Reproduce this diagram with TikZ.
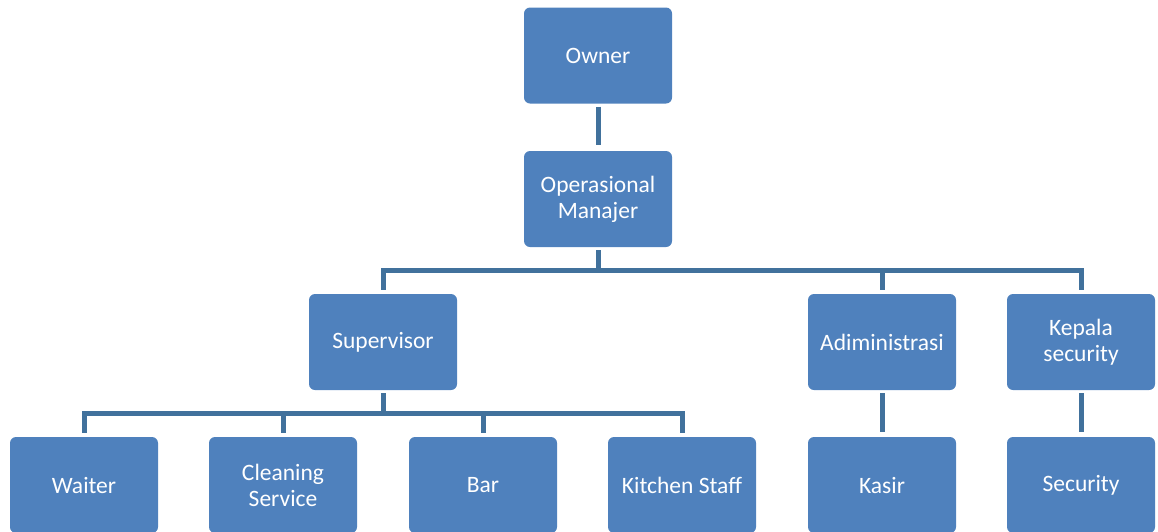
\documentclass[tikz,border=0pt]{standalone}
\usepackage{fontspec}
\setmainfont{Carlito}
\definecolor{boxblue}{HTML}{4F81BD}
\definecolor{lineblue}{HTML}{41719C}
\begin{document}
\begin{tikzpicture}[x=1pt,y=-1pt,
  box/.style={fill=boxblue, draw=none, rounded corners=6pt, minimum width=148pt, minimum height=96pt,
    text=white, align=center, font=\fontsize{23.5}{26}\selectfont, inner sep=0pt},
  conn/.style={draw=lineblue, line width=5pt}]
\clip (0,0) rectangle (1158,531);
\useasboundingbox (0,0) rectangle (1158,531);
\node[box] (own) at (598,55.5) {Owner};
\node[box] (op) at (598,199) {Operasional\\Manajer};
\node[box] (sup) at (383,342) {Supervisor};
\node[box] (adm) at (882,342) {Adiministrasi};
\node[box] (kep) at (1081,342) {Kepala\\security};
\node[box] (wai) at (84,485) {Waiter};
\node[box] (cle) at (283,485) {Cleaning\\Service};
\node[box] (bar) at (483,485) {Bar};
\node[box] (kit) at (682,485) {Kitchen Staff};
\node[box] (kas) at (882,485) {Kasir};
\node[box] (sec) at (1081,485) {Security};
\coordinate (j1) at (598,270);
\coordinate (j2) at (383,413);
\draw[conn, shorten <=3pt, shorten >=6pt] (own.south) -- (op.north);
\draw[conn, shorten <=3pt] (op.south) -- (j1);
\draw[conn, shorten >=4pt] (j1) -| (sup.north);
\draw[conn, shorten >=4pt] (j1) -| (adm.north);
\draw[conn, shorten >=4pt] (j1) -| (kep.north);
\draw[conn, shorten <=3pt] (sup.south) -- (j2);
\draw[conn, shorten >=4pt] (j2) -| (wai.north);
\draw[conn, shorten >=4pt] (j2) -| (cle.north);
\draw[conn, shorten >=4pt] (j2) -| (bar.north);
\draw[conn, shorten >=4pt] (j2) -| (kit.north);
\draw[conn, shorten <=3pt, shorten >=5pt] (adm.south) -- (kas.north);
\draw[conn, shorten <=3pt, shorten >=5pt] (kep.south) -- (sec.north);
\end{tikzpicture}
\end{document}
